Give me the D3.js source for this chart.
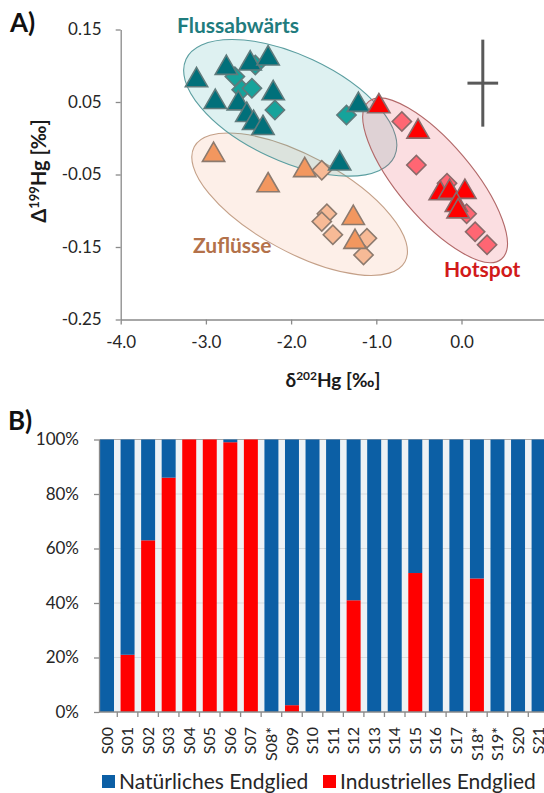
<!DOCTYPE html>
<html><head><meta charset="utf-8">
<script src="https://cdn.jsdelivr.net/npm/d3@7"></script>
<style>
body{margin:0;background:#fff}
svg{display:block}
text{font-family:Lato,"Open Sans",sans-serif}
</style>
</head><body>
<svg id="c" width="544" height="793"></svg>
<script>
// ---------- Panel A data: [δ202Hg, Δ199Hg] ----------
const flussTriangles = [[-3.11,0.080],[-2.76,0.097],[-2.48,0.103],[-2.27,0.110],[-2.89,0.050],[-2.62,0.048],[-2.52,0.032],[-2.44,0.021],[-2.33,0.014],[-2.21,0.062],[-1.21,0.046],[-1.43,-0.035]];
const flussDiamonds  = [[-2.42,0.101],[-2.66,0.085],[-2.58,0.067],[-2.46,0.069],[-2.19,0.039],[-1.35,0.032]];
const zuflTriangles  = [[-2.91,-0.023],[-2.27,-0.065],[-1.84,-0.044],[-1.27,-0.110],[-1.25,-0.143]];
const zuflDiamonds   = [[-1.64,-0.044],[-1.58,-0.104],[-1.64,-0.115],[-1.51,-0.133],[-1.11,-0.138],[-1.15,-0.161]];
const hotTriangles   = [[-0.97,0.044],[-0.51,0.009],[-0.25,-0.076],[-0.14,-0.074],[0.04,-0.074],[-0.06,-0.092],[-0.04,-0.101]];
const hotDiamonds    = [[-0.70,0.023],[-0.53,-0.037],[-0.17,-0.062],[0.06,-0.104],[0.16,-0.129],[0.30,-0.147]];
const ellipseCenters = {zufl:[-1.90,-0.091], fluss:[-2.01,0.042], hot:[-0.31,-0.058]};
const errCenter = [0.25, 0.076];
const errHalf = [0.18, 0.06];
const xTicksA = [-4,-3,-2,-1,0];
const yTicksA = [-0.25,-0.15,-0.05,0.05,0.15];
const groupLabels = ["Flussabwärts","Zuflüsse","Hotspot"];

// ---------- Panel B data ----------
const samples = ["S00","S01","S02","S03","S04","S05","S06","S07","S08*","S09","S10","S11","S12","S13","S14","S15","S16","S17","S18*","S19*","S20","S21"];
const industrial = [0,21,63,86,100,100,99,100,0,2.5,0,0,41,0,0,51,0,0,49,0,0,0];
const natural    = [100,79,37,14,0,0,1,0,100,97.5,100,100,59,100,100,49,100,100,51,100,100,100];
const yTicksB = [0,20,40,60,80,100];
const legendLabels = ["Natürliches Endglied","Industrielles Endglied"];

const svg = d3.select("#c");
const minus = s => s.replace("\u2212","-");

// ================= Panel A =================
const xA = d3.scaleLinear().domain([-4,1]).range([120.7,546.7]);
const yA = d3.scaleLinear().domain([-0.25,0.15]).range([319.5,29.5]);

const axisColor = "#8a8a8a";
const gA = svg.append("g");

const yAx = gA.append("g").attr("transform",`translate(${xA(-4)},0)`)
  .call(d3.axisLeft(yA).tickValues(yTicksA).tickSize(5).tickSizeOuter(0).tickPadding(14)
    .tickFormat(d=>minus(d3.format(".2f")(d))));
const xAx = gA.append("g").attr("transform",`translate(0,${yA(-0.25)})`)
  .call(d3.axisBottom(xA).tickValues(xTicksA).tickSize(5).tickSizeOuter(0).tickPadding(11)
    .tickFormat(d=>minus(d3.format(".1f")(d))));
[yAx,xAx].forEach(a=>{
  a.select(".domain").attr("stroke",axisColor).attr("stroke-width",1.3);
  a.selectAll(".tick line").attr("stroke",axisColor).attr("stroke-width",1.3);
  a.selectAll("text").attr("font-size",17).attr("fill","#262626").attr("font-family","Lato");
});

svg.append("text").attr("x",333).attr("y",387).attr("text-anchor","middle")
  .attr("font-size",19).attr("font-weight","bold").attr("fill","#1a1a1a")
  .html('δ<tspan font-size="12" dy="-7">202</tspan><tspan dy="7">Hg [‰]</tspan>');
svg.append("text").attr("transform","translate(46,171) rotate(-90)").attr("text-anchor","middle")
  .attr("font-size",20).attr("font-weight","bold").attr("fill","#1a1a1a")
  .html('Δ<tspan font-size="13" dy="-7">199</tspan><tspan dy="7">Hg [‰]</tspan>');
svg.append("text").attr("x",10).attr("y",32).attr("font-size",26).attr("font-weight","bold").attr("fill","#111").text("A)");

const groups = [
  {key:"zufl", ell:{rx:120,ry:48,rot:28.6,fill:"rgb(240,150,100)",op:0.15,stroke:"#c4a088"},
   tri:zuflTriangles, dia:zuflDiamonds, triFill:"#f2975f", diaFill:"#f7ba96", mk:"#8c7a6e"},
  {key:"fluss", ell:{rx:115,ry:53,rot:25,fill:"rgb(32,160,160)",op:0.15,stroke:"#5b9ea0"},
   tri:flussTriangles, dia:flussDiamonds, triFill:"#01707a", diaFill:"#16a39b", mk:"#5f7b7c"},
  {key:"hot", ell:{rx:103,ry:37,rot:49.8,fill:"rgb(232,60,80)",op:0.17,stroke:"#b26868"},
   tri:hotTriangles, dia:hotDiamonds, triFill:"#ff0000", diaFill:"#ff6673", mk:"#8a6a6a"}
];
const triPath = d3.symbol().type(d3.symbolTriangle).size(215)();
const diaPath = d3.symbol().type(d3.symbolSquare).size(185)();

groups.forEach(g=>{
  const c = ellipseCenters[g.key];
  gA.append("ellipse")
    .attr("transform",`translate(${xA(c[0])},${yA(c[1])}) rotate(${g.ell.rot})`)
    .attr("rx",g.ell.rx).attr("ry",g.ell.ry)
    .attr("fill",g.ell.fill).attr("fill-opacity",g.ell.op)
    .attr("stroke",g.ell.stroke).attr("stroke-width",1.1);
});
groups.forEach(g=>{
  const gg = gA.append("g");
  gg.selectAll(".d").data(g.dia).join("path")
    .attr("d",diaPath).attr("transform",d=>`translate(${xA(d[0])},${yA(d[1])}) rotate(45)`)
    .attr("fill",g.diaFill).attr("stroke",g.mk).attr("stroke-width",1.6);
  gg.selectAll(".t").data(g.tri).join("path")
    .attr("d",triPath).attr("transform",d=>`translate(${xA(d[0])},${yA(d[1])})`)
    .attr("fill",g.triFill).attr("stroke",g.mk).attr("stroke-width",1.6);
});

const labStyle = [
  {x:238,y:33,anchor:"middle",fill:"#1f7c7e"},
  {x:193,y:253,anchor:"start",fill:"#b3714a"},
  {x:444,y:277,anchor:"start",fill:"#d11a1a"}
];
groupLabels.forEach((t,i)=>{
  svg.append("text").attr("x",labStyle[i].x).attr("y",labStyle[i].y)
    .attr("text-anchor",labStyle[i].anchor).attr("font-size",21).attr("font-weight","bold")
    .attr("fill",labStyle[i].fill).text(t);
});

const eg = gA.append("g").attr("stroke","#595959").attr("stroke-width",3);
eg.append("line").attr("x1",xA(errCenter[0])).attr("x2",xA(errCenter[0]))
  .attr("y1",yA(errCenter[1]+errHalf[1])).attr("y2",yA(errCenter[1]-errHalf[1]));
eg.append("line").attr("y1",yA(errCenter[1])).attr("y2",yA(errCenter[1]))
  .attr("x1",xA(errCenter[0]-errHalf[0])).attr("x2",xA(errCenter[0]+errHalf[0]));

// ================= Panel B =================
const yB = d3.scaleLinear().domain([0,100]).range([712,439.5]);
const xB = d3.scaleBand().domain(samples).range([99,546.6]).paddingInner(0.32).paddingOuter(0.05);
const gB = svg.append("g");

gB.append("rect").attr("x",99).attr("y",yB(100)).attr("width",546.6-99).attr("height",yB(0)-yB(100))
  .attr("fill","#eef2f5");
gB.selectAll(".grid").data(yTicksB.filter(d=>d>0&&d<100)).join("line")
  .attr("x1",99).attr("x2",546.6).attr("y1",d=>yB(d)).attr("y2",d=>yB(d))
  .attr("stroke","#d6dadd").attr("stroke-width",1);
gB.append("line").attr("x1",99).attr("x2",546.6).attr("y1",yB(100)).attr("y2",yB(100))
  .attr("stroke","#a9a9a9").attr("stroke-width",1.2);

const rows = samples.map((s,i)=>({s, industrial:industrial[i], natural:natural[i]}));
const stack = d3.stack().keys(["industrial","natural"])(rows);
const colB = {industrial:"#ff0000", natural:"#0c5fa5"};
stack.forEach(layer=>{
  gB.append("g").attr("fill",colB[layer.key]).selectAll("rect").data(layer).join("rect")
    .attr("x",d=>xB(d.data.s)).attr("width",xB.bandwidth())
    .attr("y",d=>yB(d[1])).attr("height",d=>yB(d[0])-yB(d[1]));
});

const yBx = gB.append("g").attr("transform","translate(99,0)")
  .call(d3.axisLeft(yB).tickValues(yTicksB).tickSize(5).tickSizeOuter(0).tickPadding(15)
    .tickFormat(d=>d+"%"));
yBx.select(".domain").attr("stroke",axisColor).attr("stroke-width",1.3);
yBx.selectAll(".tick line").attr("stroke",axisColor).attr("stroke-width",1.3);
yBx.selectAll("text").attr("font-size",17).attr("fill","#262626").attr("font-family","Lato");

gB.append("line").attr("x1",99).attr("x2",546.6).attr("y1",yB(0)).attr("y2",yB(0))
  .attr("stroke",axisColor).attr("stroke-width",1.3);
const gapHalf = xB.step()*xB.paddingInner()/2;
const bounds = samples.map(s=>xB(s)+xB.bandwidth()+gapHalf);
gB.selectAll(".bt").data(bounds).join("line")
  .attr("x1",d=>d).attr("x2",d=>d).attr("y1",yB(0)).attr("y2",yB(0)+5)
  .attr("stroke",axisColor).attr("stroke-width",1.3);
gB.selectAll(".xl").data(samples).join("text")
  .attr("transform",d=>`translate(${xB(d)+xB.bandwidth()/2},727) rotate(-90)`)
  .attr("text-anchor","end").attr("dy","0.35em").attr("font-size",16).attr("fill","#262626")
  .text(d=>d);

svg.append("text").attr("x",8).attr("y",430).attr("font-size",26).attr("font-weight","bold").attr("fill","#111").text("B)");

const legX = [102,323];
const legKeys = ["natural","industrial"];
legendLabels.forEach((t,i)=>{
  svg.append("rect").attr("x",legX[i]).attr("y",775).attr("width",13).attr("height",13).attr("fill",colB[legKeys[i]]);
  svg.append("text").attr("x",legX[i]+17).attr("y",789).attr("font-size",21).attr("fill","#262626").text(t);
});
</script>
</body></html>
